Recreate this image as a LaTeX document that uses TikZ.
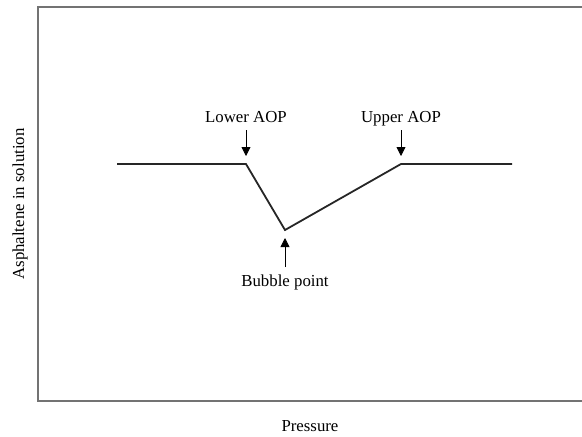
\documentclass[tikz,border=0pt]{standalone}
\usepackage{fontspec}
\setmainfont{Liberation Serif}
\usetikzlibrary{arrows.meta}
\begin{document}
\begin{tikzpicture}[x=1pt,y=-1pt,
  lbl/.style={font=\fontsize{16.8}{19}\selectfont, inner sep=0pt, anchor=base},
  curve/.style={line width=1.8pt, line join=miter, color=black!85},
  frame/.style={line width=1.6pt, color=black!55},
  pointer/.style={line width=0.8pt, -{Triangle[length=9pt,width=9pt]}}]
\useasboundingbox (0,0) rectangle (582,437);
\coordinate (f1) at (582,7);
\coordinate (f2) at (38,7);
\coordinate (f3) at (38,401);
\coordinate (f4) at (582,401);
\draw[frame] (f1) -- (f2) -- (f3) -- (f4);
\coordinate (s) at (117,164);
\coordinate (la) at (246,164);
\coordinate (bp) at (285,230);
\coordinate (ua) at (401,164);
\coordinate (e) at (512,164);
\draw[curve] (s) -- (la) -- (bp) -- (ua) -- (e);
\node[lbl] (tla) at (246,122) {Lower AOP};
\node[lbl] (tua) at (401,122) {Upper AOP};
\node[lbl] (tbp) at (285,286) {Bubble point};
\coordinate (a1s) at (246,130);
\coordinate (a1e) at (246,156);
\coordinate (a2s) at (401,130);
\coordinate (a2e) at (401,156);
\coordinate (a3s) at (285,267);
\coordinate (a3e) at (285,238);
\draw[pointer] (a1s) -- (a1e);
\draw[pointer] (a2s) -- (a2e);
\draw[pointer] (a3s) -- (a3e);
\node[lbl] (px) at (310,431) {Pressure};
\node[lbl, rotate=90, anchor=center] (py) at (20,204) {Asphaltene in solution};
\end{tikzpicture}
\end{document}
